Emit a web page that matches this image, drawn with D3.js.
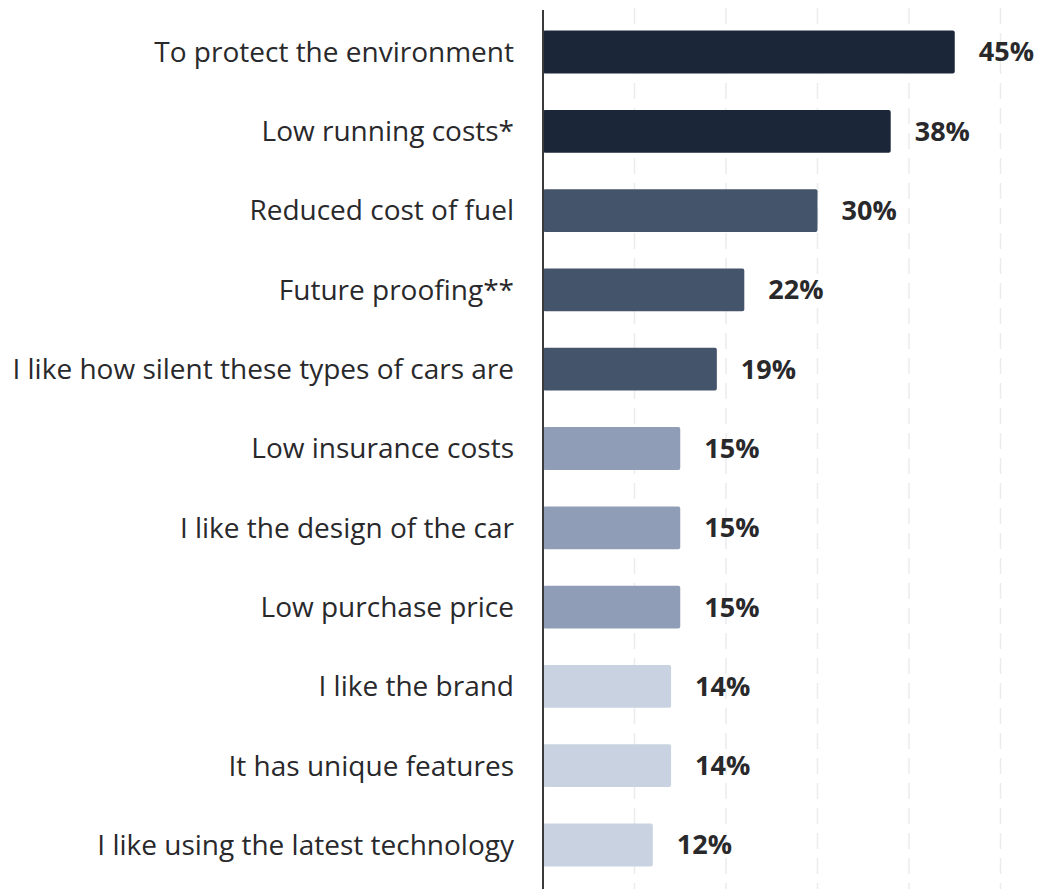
<!DOCTYPE html>
<html>
<head>
<meta charset="utf-8">
<script src="https://cdn.jsdelivr.net/npm/d3@7"></script>
<style>
  html, body { margin: 0; padding: 0; background: #ffffff; }
  svg { display: block; }
  .cat { font-family: "Open Sans", Lato, sans-serif; font-size: 28px; font-weight: 500; fill: #29292c; }
  .val { font-family: "Open Sans", Lato, sans-serif; font-size: 27px; font-weight: 700; fill: #29292c; }
</style>
</head>
<body>
<svg id="chart" width="1047" height="889"></svg>
<script>
// Reasons for choosing an electric car (share of respondents, %)
const categories = [
  "To protect the environment",
  "Low running costs*",
  "Reduced cost of fuel",
  "Future proofing**",
  "I like how silent these types of cars are",
  "Low insurance costs",
  "I like the design of the car",
  "Low purchase price",
  "I like the brand",
  "It has unique features",
  "I like using the latest technology"
];
const values = [45, 38, 30, 22, 19, 15, 15, 15, 14, 14, 12];
// shade group per bar: 0 darkest … 3 lightest
const shadeGroups = [0, 0, 1, 1, 1, 2, 2, 2, 3, 3, 3];
const shades = ["#1c2639", "#44546a", "#8f9eb6", "#c9d2e0"];
const gridTicks = [10, 20, 30, 40, 50];

const svg = d3.select("#chart");
const W = 1047, H = 889;
const x0 = 543;

const x = d3.scaleLinear().domain([0, 50]).range([x0, x0 + 50 * 9.15]);
const y = d3.scaleBand()
  .domain(categories)
  .range([12.35, 884.65])
  .paddingInner(0.46)
  .paddingOuter(0.23);

// dashed vertical gridlines
svg.append("g")
  .selectAll("line")
  .data(gridTicks)
  .join("line")
  .attr("x1", d => x(d)).attr("x2", d => x(d))
  .attr("y1", 8).attr("y2", H)
  .attr("stroke", "#ececef")
  .attr("stroke-width", 1.5)
  .attr("stroke-dasharray", "16 9");

// bars
svg.append("g")
  .selectAll("rect")
  .data(values)
  .join("rect")
  .attr("x", x(0))
  .attr("y", (d, i) => y(categories[i]))
  .attr("width", d => x(d) - x(0))
  .attr("height", y.bandwidth())
  .attr("rx", 2)
  .attr("fill", (d, i) => shades[shadeGroups[i]]);

// baseline axis
svg.append("line")
  .attr("x1", x0).attr("x2", x0)
  .attr("y1", 10).attr("y2", H)
  .attr("stroke", "#3a3a3a")
  .attr("stroke-width", 2);

// category labels
svg.append("g")
  .selectAll("text")
  .data(categories)
  .join("text")
  .attr("class", "cat")
  .attr("x", x0 - 29)
  .attr("y", d => y(d) + y.bandwidth() / 2)
  .attr("dy", "0.35em")
  .attr("text-anchor", "end")
  .text(d => d);

// value labels
svg.append("g")
  .selectAll("text")
  .data(values)
  .join("text")
  .attr("class", "val")
  .attr("x", d => x(d) + 24)
  .attr("y", (d, i) => y(categories[i]) + y.bandwidth() / 2)
  .attr("dy", "0.35em")
  .text(d => d + "%");
</script>
</body>
</html>
